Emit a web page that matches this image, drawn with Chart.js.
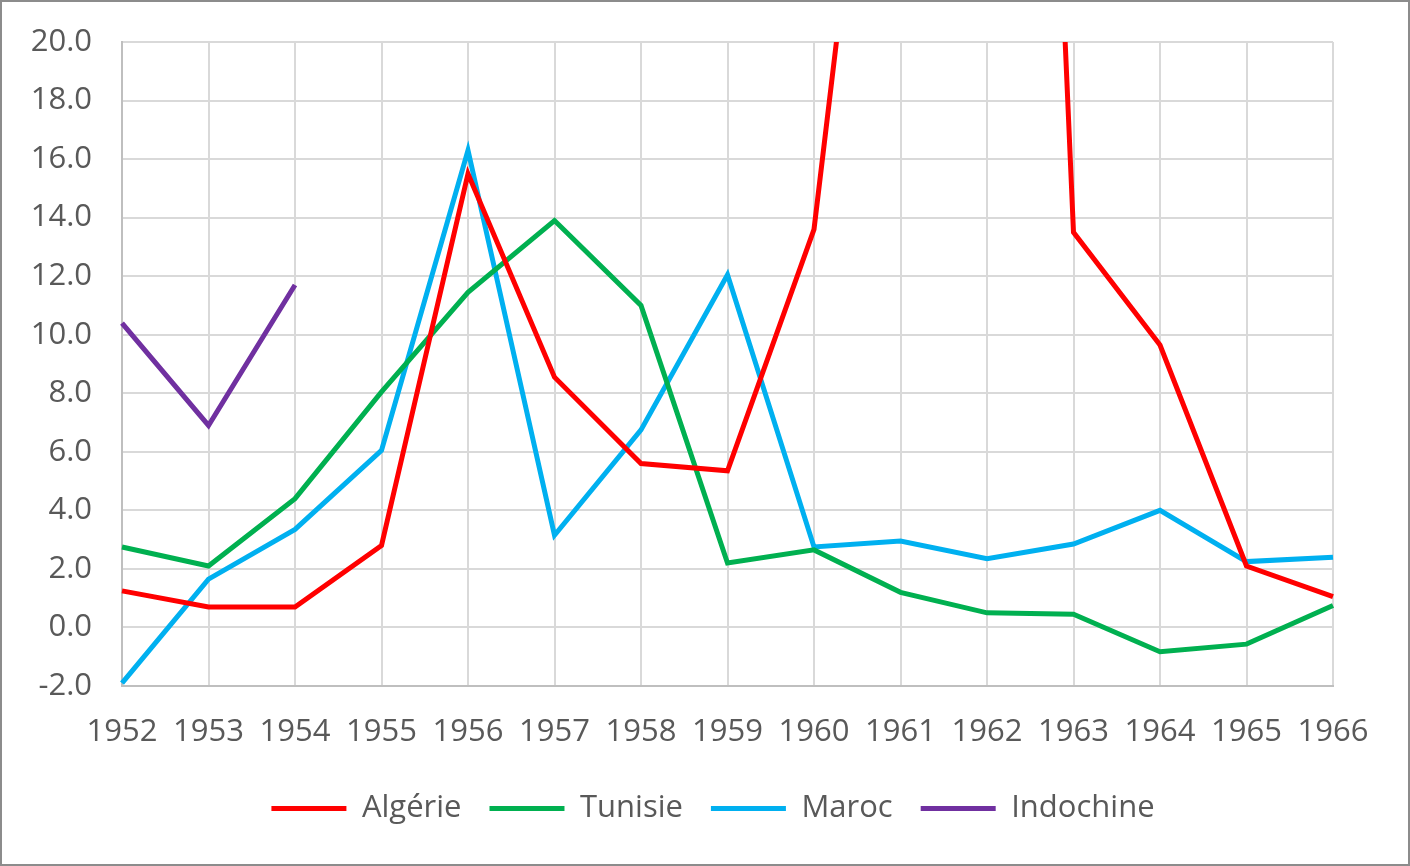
<!DOCTYPE html>
<html>
<head>
<meta charset="utf-8">
<script src="https://cdn.jsdelivr.net/npm/chart.js@4.4.1/dist/chart.umd.min.js"></script>
<style>
  html, body { margin: 0; padding: 0; background: #fff; }
  #wrap {
    width: 1410px; height: 866px; box-sizing: border-box;
    border: 2px solid #8c8c8c; background: #fff;
  }
  #growthChart { display: block; }
</style>
</head>
<body>
<div id="wrap"><canvas id="growthChart" width="1406" height="862"></canvas></div>
<script>
// years on the x axis
const years = ['1952', '1953', '1954', '1955', '1956', '1957', '1958', '1959',
               '1960', '1961', '1962', '1963', '1964', '1965', '1966'];

// series values (Algérie 1961-1962 run far above the top of the axis)
const algerie   = [1.25, 0.7, 0.7, 2.8, 15.5, 8.55, 5.6, 5.35, 13.6, 38.3, 81.0, 13.5, 9.65, 2.1, 1.05];
const tunisie   = [2.75, 2.1, 4.4, 8.05, 11.45, 13.9, 11.0, 2.2, 2.65, 1.2, 0.5, 0.45, -0.83, -0.57, 0.75];
const maroc     = [-1.9, 1.65, 3.35, 6.05, 16.3, 3.15, 6.75, 12.05, 2.75, 2.95, 2.35, 2.85, 4.0, 2.25, 2.4];
const indochine = [10.4, 6.9, 11.7, null, null, null, null, null, null, null, null, null, null, null, null];

// y axis range
const yMin = -2;
const yMax = 20;
const yStep = 2;

const textGray = '#595959';
const font = { family: "'Open Sans', 'Liberation Sans', sans-serif", size: 31 };

function series(label, data, color) {
    return {
        label: label,
        data: data,
        borderColor: color,
        backgroundColor: color,
        borderWidth: 5,
        pointRadius: 0,
        tension: 0,
        spanGaps: false
    };
}

const ctx = document.getElementById('growthChart').getContext('2d');
new Chart(ctx, {
    type: 'line',
    data: {
        labels: years,
        datasets: [
            series('Algérie', algerie, '#ff0000'),
            series('Tunisie', tunisie, '#00b050'),
            series('Maroc', maroc, '#00b0f0'),
            series('Indochine', indochine, '#7030a0')
        ]
    },
    options: {
        responsive: false,
        animation: false,
        layout: { padding: { left: 16, right: 0, top: 40, bottom: 30 } },
        plugins: {
            tooltip: { enabled: false },
            legend: {
                position: 'bottom',
                labels: {
                    color: textGray,
                    font: font,
                    boxWidth: 75,
                    boxHeight: 5,
                    padding: 28,
                    generateLabels: function(chart) {
                        const items = Chart.defaults.plugins.legend.labels.generateLabels(chart);
                        items.forEach(function(it) { it.lineWidth = 0; });
                        return items;
                    }
                }
            }
        },
        scales: {
            x: {
                offset: false,
                grid: { color: '#d9d9d9', lineWidth: 2, drawTicks: false },
                border: { color: '#bfbfbf', width: 2 },
                ticks: { color: textGray, font: font, padding: 28, maxRotation: 0 },
                afterFit: function(s) {
                    s.height = 79;
                    s.paddingRight = 75;
                }
            },
            y: {
                min: yMin,
                max: yMax,
                grid: { color: '#d9d9d9', lineWidth: 2, drawTicks: false },
                border: { color: '#bfbfbf', width: 2 },
                ticks: {
                    stepSize: yStep,
                    color: textGray,
                    font: font,
                    padding: 30,
                    callback: function(v) { return v.toFixed(1); }
                },
                afterFit: function(s) {
                    s.width = 104;
                    s.paddingTop = 0;
                    s.paddingBottom = 0;
                }
            }
        }
    }
});
</script>
</body>
</html>
